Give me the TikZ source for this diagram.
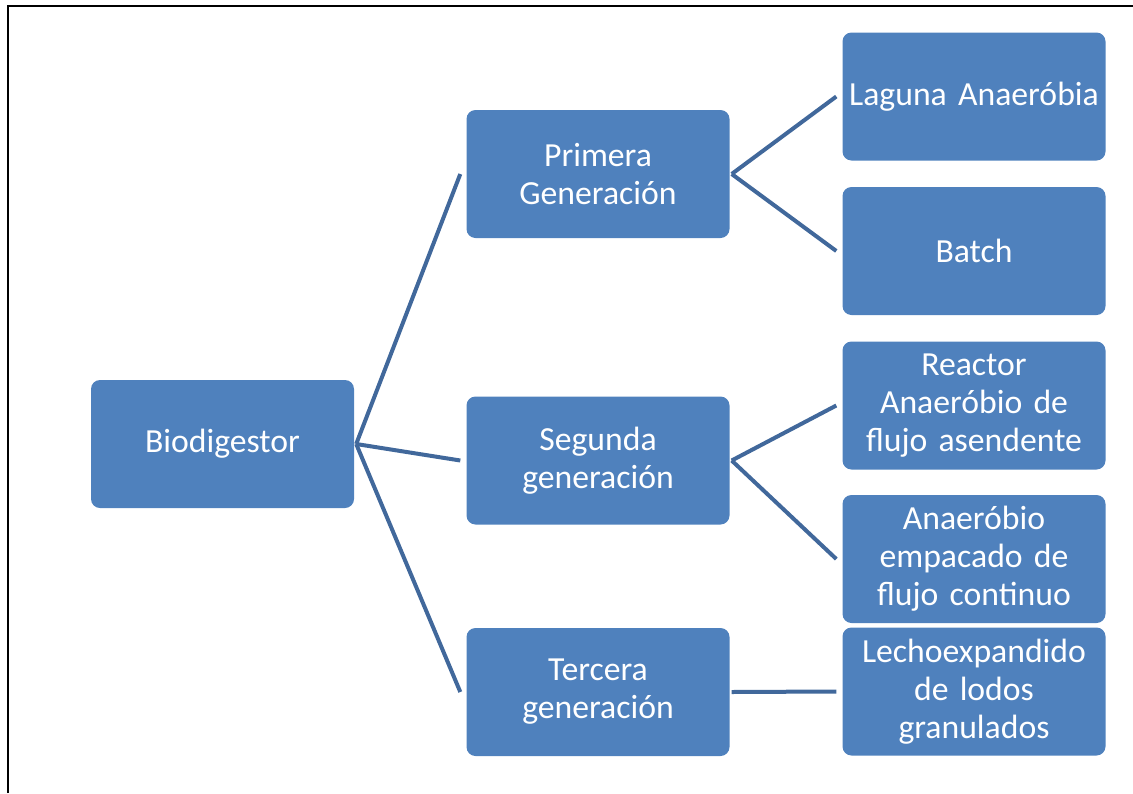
\documentclass[tikz,border=0pt]{standalone}
\usepackage{fontspec}
\setmainfont{Carlito}
\usetikzlibrary{positioning}

\definecolor{boxblue}{RGB}{79,129,189}
\definecolor{linkblue}{RGB}{65,104,155}

\tikzset{
    genbox/.style={draw=none,fill=boxblue,rounded corners=9pt,
        minimum width=263pt,minimum height=128pt,text width=250pt,
        align=center,text=white,inner sep=0pt,
        font=\fontsize{33.7}{38}\selectfont},
    link/.style={draw=linkblue,line width=4pt}
}

\begin{document}
\begin{tikzpicture}[x=1pt,y=-1pt]
        \useasboundingbox (0,0) rectangle (1133,793);
        % marco
        \draw[line width=2.2pt] (8,793) -- (8,6) -- (1133,6);

        \node[genbox] (bio) at (222.5,444) {Biodigestor};
        \node[genbox] (prim) at (598,174) {Primera\\Generación};
        \node[genbox] (seg) at (598,460.5) {Segunda\\generación};
        \node[genbox] (ter) at (598,692) {Tercera\\generación};

        \node[genbox] (lag) at (974,96.5) {Laguna Anaeróbia};
        \node[genbox] (bat) at (974,251) {Batch};
        \node[genbox] (rea) at (974,405.5) {Reactor\\Anaeróbio de\\flujo asendente};
        \node[genbox] (ana) at (974,559) {Anaeróbio\\empacado de\\flujo continuo};
        \node[genbox] (lec) at (974,691.5) {Lechoexpandido\\de lodos\\granulados};

        \foreach \a/\b in {bio/prim,bio/seg,bio/ter,prim/lag,prim/bat,
                           seg/rea,seg/ana,ter/lec} {
            \draw[link] ([xshift=2pt]\a.east) -- ([xshift=-6pt]\b.west);
        }
    \end{tikzpicture}
\end{document}
